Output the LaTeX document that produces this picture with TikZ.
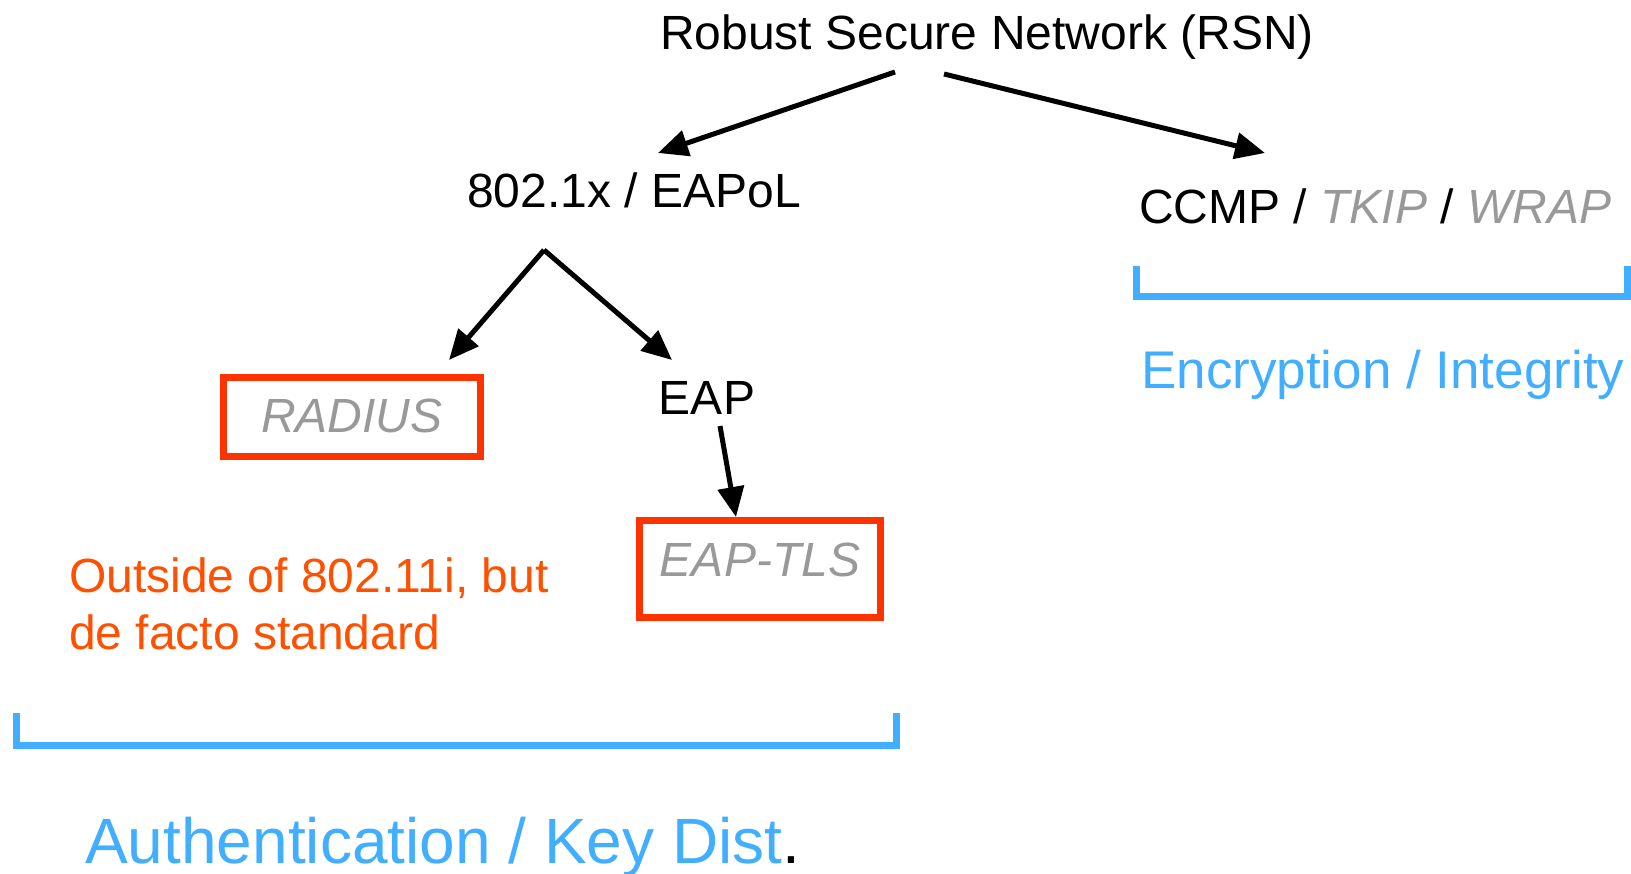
\documentclass[tikz,border=0pt]{standalone}
\usepackage{fontspec}
\setmainfont{Liberation Sans}
\usetikzlibrary{arrows.meta}
\definecolor{keyblue}{HTML}{42AEFF}
\definecolor{boxred}{HTML}{FF3300}
\definecolor{noteorange}{HTML}{FF5000}
\definecolor{optgray}{HTML}{999999}

\begin{document}
\begin{tikzpicture}[x=1pt,y=-1pt,
  lbl/.style={font=\fontsize{48}{57}\selectfont, inner sep=0pt},
  redbox/.style={lbl, draw=boxred, line width=7pt, text=optgray, text height=34pt},
  arr/.style={-{Triangle[length=30pt,width=26pt]}, line width=5pt},
  brace/.style={draw=keyblue, line width=7pt, line join=miter}]
\useasboundingbox (0,0) rectangle (1631,874);
% tree
\node[lbl, anchor=base] (rsn) at (987,50) {Robust Secure Network (RSN)};
\node[lbl, anchor=base] (eapol) at (634,208) {802.1x / EAPoL};
\node[lbl, anchor=base west] (ccmp) at (1139,224) {CCMP / \textcolor{optgray}{\textit{TKIP}} / \textcolor{optgray}{\textit{WRAP}}};
\node[redbox, minimum width=257pt, minimum height=79pt, text depth=3pt] (radius) at (352,417) {\textit{RADIUS}};
\node[lbl, anchor=base] (eap) at (707,415) {EAP};
\node[redbox, minimum width=241pt, minimum height=97pt, text depth=20pt] (eaptls) at (760,569) {\textit{EAP-TLS}};
\node[lbl, anchor=base west, align=left, text=noteorange] (note) at (69,649) {Outside of 802.11i, but\\de facto standard};
\draw[arr] ([shift={(-92pt,-22pt)}]rsn.base) -- ([shift={(24pt,55pt)}]eapol.base);
\draw[arr] ([shift={(-43pt,-24pt)}]rsn.base) -- ([shift={(126pt,71pt)}]ccmp.base west);
\draw[arr] ([shift={(-90pt,-42pt)}]eapol.base) -- ([shift={(97pt,14pt)}]radius.north);
\draw[arr] ([shift={(-90pt,-42pt)}]eapol.base) -- ([shift={(-35pt,55pt)}]eap.base);
\draw[arr] ([shift={(13pt,-11pt)}]eap.base) -- ([xshift=-24pt]eaptls.north);
% groups
\draw[brace] (1136,266) -- (1136,297) -- (1627,297) -- (1627,266);
\node[lbl, anchor=base west, font=\fontsize{53}{60}\selectfont, text=keyblue] (encint) at (1141,389) {Encryption / Integrity};
\draw[brace] (16,713) -- (16,745) -- (896,745) -- (896,713);
\node[lbl, anchor=base west, font=\fontsize{64}{72}\selectfont, text=keyblue] (auth) at (85,863) {Authentication / Key Dist\textcolor{black}{.}};
\end{tikzpicture}
\end{document}
